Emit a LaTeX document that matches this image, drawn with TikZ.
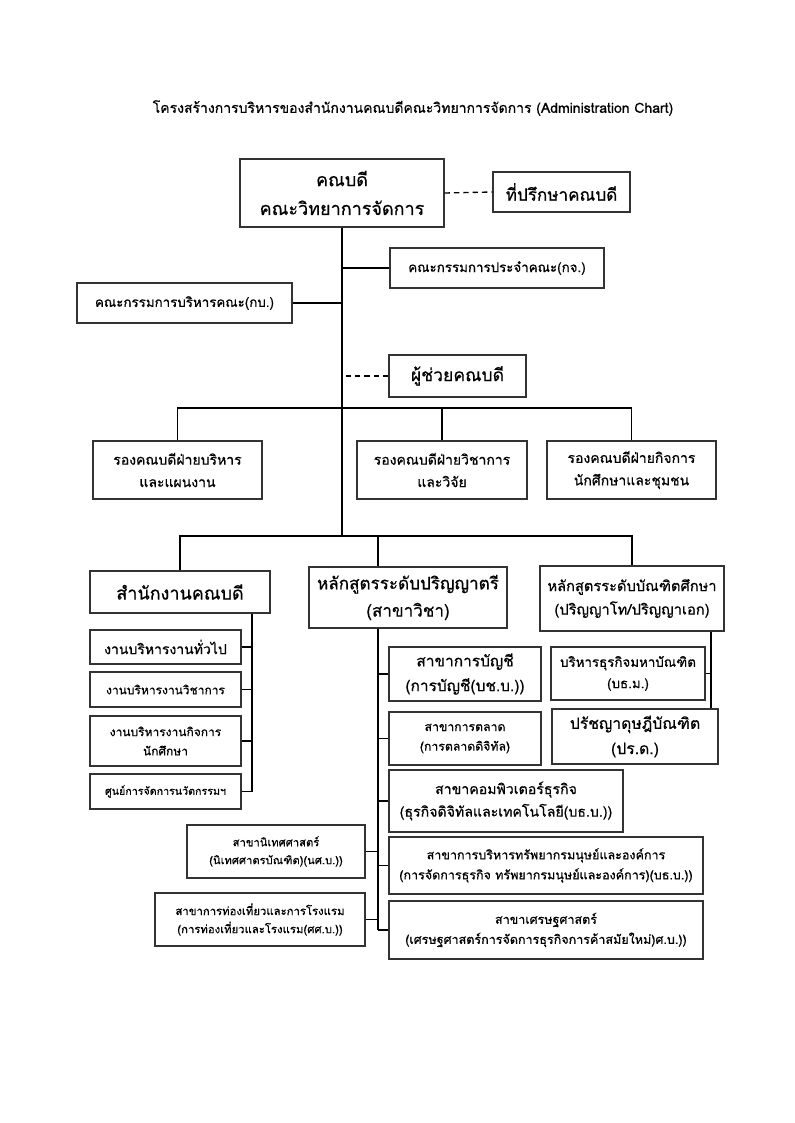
\documentclass[tikz,border=0pt]{standalone}
\usepackage{fontspec}
\newfontfamily\thaifont[Script=Thai,FakeBold=0.6]{Loma}
\newcommand\fs[1]{\fontsize{#1}{\dimexpr#1pt*8/5\relax}\selectfont}
\newcommand\bx[7]{%
  \node[box, minimum width={(#4-#2)*0.75pt}, minimum height={(#5-#3)*0.75pt},
        font=\thaifont\fs{#6}] (#1) at ({(#2+#4)/2},{(#3+#5)/2}) {#7};}
\tikzset{
  box/.style={draw=black!80, line width=0.9pt, inner sep=0pt, align=center, fill=white},
  ln/.style={line width=1pt, black},
  dsh/.style={line width=1pt, black, dash pattern=on 4pt off 3pt},
}
\begin{document}
\begin{tikzpicture}[x=0.75pt,y=-0.75pt]
\useasboundingbox (0,0) rectangle (794,1123);
\fill[white] (0,0) rectangle (794,1123);

\node[font=\thaifont\fs{10.5}, inner sep=0pt] (title) at (413,108)
  {โครงสร้างการบริหารของสำนักงานคณบดีคณะวิทยาการจัดการ (Administration Chart)};

% top level
\bx{dean}{240}{159}{444}{227}{13.5}{คณบดี\\คณะวิทยาการจัดการ}
\bx{adv}{493}{172}{630}{212}{12.8}{ที่ปรึกษาคณบดี}
\bx{kj}{390}{248}{604}{288}{10}{คณะกรรมการประจำคณะ(กจ.)}
\bx{kb}{77}{283}{292}{323}{10}{คณะกรรมการบริหารคณะ(กบ.)}
\bx{asst}{389}{355}{526}{397}{13.2}{ผู้ช่วยคณบดี}

% vice deans
\bx{vp1}{93}{441}{262}{499}{10.5}{รองคณบดีฝ่ายบริหาร\\และแผนงาน}
\bx{vp2}{357}{441}{527}{499}{10.5}{รองคณบดีฝ่ายวิชาการ\\และวิจัย}
\bx{vp3}{547}{441}{716}{499}{10.5}{รองคณบดีฝ่ายกิจการ\\นักศึกษาและชุมชน}

% row 4
\bx{office}{90}{571}{270}{613}{13.5}{สำนักงานคณบดี}
\bx{bach}{309}{567}{507}{628}{12.8}{หลักสูตรระดับปริญญาตรี\\(สาขาวิชา)}
\bx{grad}{540}{566}{724}{631}{11}{หลักสูตรระดับบัณฑิตศึกษา\\(ปริญญาโท/ปริญญาเอก)}

% office units
\bx{s1}{90}{630}{241}{664}{10.5}{งานบริหารงานทั่วไป}
\bx{s2}{90}{672}{241}{707}{9}{งานบริหารงานวิชาการ}
\bx{s3}{90}{716}{241}{766}{9}{งานบริหารงานกิจการ\\นักศึกษา}
\bx{s4}{90}{774}{241}{809}{8}{ศูนย์การจัดการนวัตกรรมฯ}

% bachelor programmes
\bx{m1}{389}{647}{541}{701}{11.6}{สาขาการบัญชี\\(การบัญชี(บช.บ.))}
\bx{m2}{389}{712}{541}{765}{9.2}{สาขาการตลาด\\(การตลาดดิจิทัล)}
\bx{m3}{389}{770}{623}{832}{10.6}{สาขาคอมพิวเตอร์ธุรกิจ\\(ธุรกิจดิจิทัลและเทคโนโลยี(บธ.บ.))}
\bx{m4}{389}{837}{703}{894}{9.4}{สาขาการบริหารทรัพยากรมนุษย์และองค์การ\\(การจัดการธุรกิจ ทรัพยากรมนุษย์และองค์การ)(บธ.บ.))}
\bx{m5}{389}{901}{703}{959}{9.4}{สาขาเศรษฐศาสตร์\\(เศรษฐศาสตร์การจัดการธุรกิจการค้าสมัยใหม่)ศ.บ.))}
\bx{l1}{187}{825}{365}{878}{8.4}{สาขานิเทศศาสตร์\\(นิเทศศาตรบัณฑิต)(นศ.บ.))}
\bx{l2}{155}{893}{365}{946}{8.5}{สาขาการท่องเที่ยวและการโรงแรม\\(การท่องเที่ยวและโรงแรม(ศศ.บ.))}

% graduate programmes
\bx{g1}{551}{647}{705}{700}{10}{บริหารธุรกิจมหาบัณฑิต\\(บธ.ม.)}
\bx{g2}{552}{709}{718}{764}{11.8}{ปรัชญาดุษฎีบัณฑิต\\(ปร.ด.)}

% junction coordinates
\coordinate (h3) at (342,408);
\coordinate (h4) at (342,536);
\coordinate (bt) at (378,536);
\coordinate (oline) at (252,613);
\coordinate (gline) at (711,631);

% connectors
\draw[ln] (dean.south) -- (dean.south |- h4);
\draw[dsh] (dean.east) -- (adv.west);
\draw[ln] (kj.west) -- (kj.west -| dean.south);
\draw[ln] (kb.east) -- (kb.east -| dean.south);
\draw[dsh] (asst.west) -- (asst.west -| dean.south);

\draw[ln] (vp1.north) |- (vp3.north |- h3) -- (vp3.north);
\draw[ln] (vp2.north) -- (vp2.north |- h3);

\draw[ln] (office.north) |- (grad.north |- h4) -- (grad.north);
\draw[ln] (bt) -- (bt |- bach.north);

\draw[ln] (oline |- office.south) -- (oline |- s4.east);
\foreach \n in {s1,s2,s3,s4} \draw[ln] (\n.east) -- (\n.east -| oline);

\draw[ln] (bt |- bach.south) -- (bt |- m5.west);
\foreach \n in {m1,m2,m3,m4,m5} \draw[ln] (\n.west) -- (\n.west -| bt);
\foreach \n in {l1,l2} \draw[ln] (\n.east) -- (\n.east -| bt);

\draw[ln] (gline |- grad.south) -- (gline |- g2.north);
\draw[ln] (g1.east) -- (g1.east -| gline);
\end{tikzpicture}
\end{document}
